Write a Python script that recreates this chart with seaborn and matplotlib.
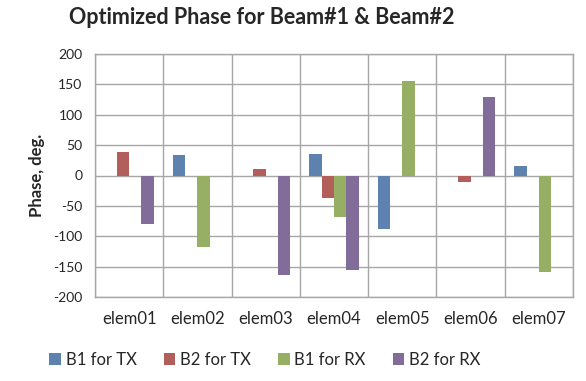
import matplotlib
matplotlib.use("Agg")
import matplotlib.pyplot as plt
import seaborn as sns
import pandas as pd
import numpy as np

categories = ["elem01", "elem02", "elem03", "elem04", "elem05", "elem06", "elem07"]
series_names = ["B1 for TX", "B2 for TX", "B1 for RX", "B2 for RX"]
b1_tx = [0, 34, 0, 36, -88, 0, 16]
b2_tx = [38, 0, 10, -37, 0, -10, 0]
b1_rx = [0, -117, 0, -68, 156, 0, -159]
b2_rx = [-80, 0, -163, -155, 0, 130, 0]
yticks = [-200, -150, -100, -50, 0, 50, 100, 150, 200]
colors = ["#4F81BD", "#C0504D", "#9BBB59", "#8064A2"]

rows = []
for name, vals in zip(series_names, [b1_tx, b2_tx, b1_rx, b2_rx]):
    for c, v in zip(categories, vals):
        rows.append({"elem": c, "series": name, "phase": v})
df = pd.DataFrame(rows)

sns.set_style("white")
plt.rcParams['font.family'] = ['Lato', 'DejaVu Sans']

fig = plt.figure(figsize=(5.86, 3.81), dpi=100)
ax = fig.add_axes([95/586, 1 - 297/381, (573-95)/586, (297-54)/381])
sns.barplot(data=df, x="elem", y="phase", hue="series", palette=colors,
            width=0.72, ax=ax, order=categories, hue_order=series_names,
            linewidth=0)

ax.set_ylim(-200, 200)
ax.set_xlim(-0.5, len(categories) - 0.5)
ax.set_yticks(yticks)
ax.set_yticklabels([str(t) for t in yticks], fontsize=10)
ax.set_xticks(range(len(categories)))
ax.set_xticklabels(categories, fontsize=12)
ax.set_xticks(np.arange(-0.5, len(categories), 1.0), minor=True)
ax.grid(True, axis="y", color="#a6a6a6", linewidth=1)
ax.grid(True, axis="x", which="minor", color="#a6a6a6", linewidth=1)
ax.grid(False, axis="x", which="major")
ax.set_axisbelow(True)
for s in ax.spines.values():
    s.set_color("#a6a6a6")
    s.set_linewidth(1)
ax.tick_params(axis="y", length=5, color="#a6a6a6", pad=4)
ax.tick_params(axis="x", which="both", length=0, pad=10)
ax.set_xlabel("")
ax.set_ylabel("Phase, deg.", fontsize=12, fontweight="bold", labelpad=6)
fig.suptitle("Optimized Phase for Beam#1 & Beam#2", x=262/586, y=1 - 7/381,
             fontsize=15.5, fontweight="bold", va="top")

handles, labels = ax.get_legend_handles_labels()
ax.legend(handles, labels, loc="center", bbox_to_anchor=(265/586, 1 - 360/381),
          bbox_transform=fig.transFigure, ncol=4, frameon=False, fontsize=12,
          handlelength=0.7, handleheight=0.7, handletextpad=0.3, columnspacing=1.6)

fig.savefig("out.png", dpi=100)
